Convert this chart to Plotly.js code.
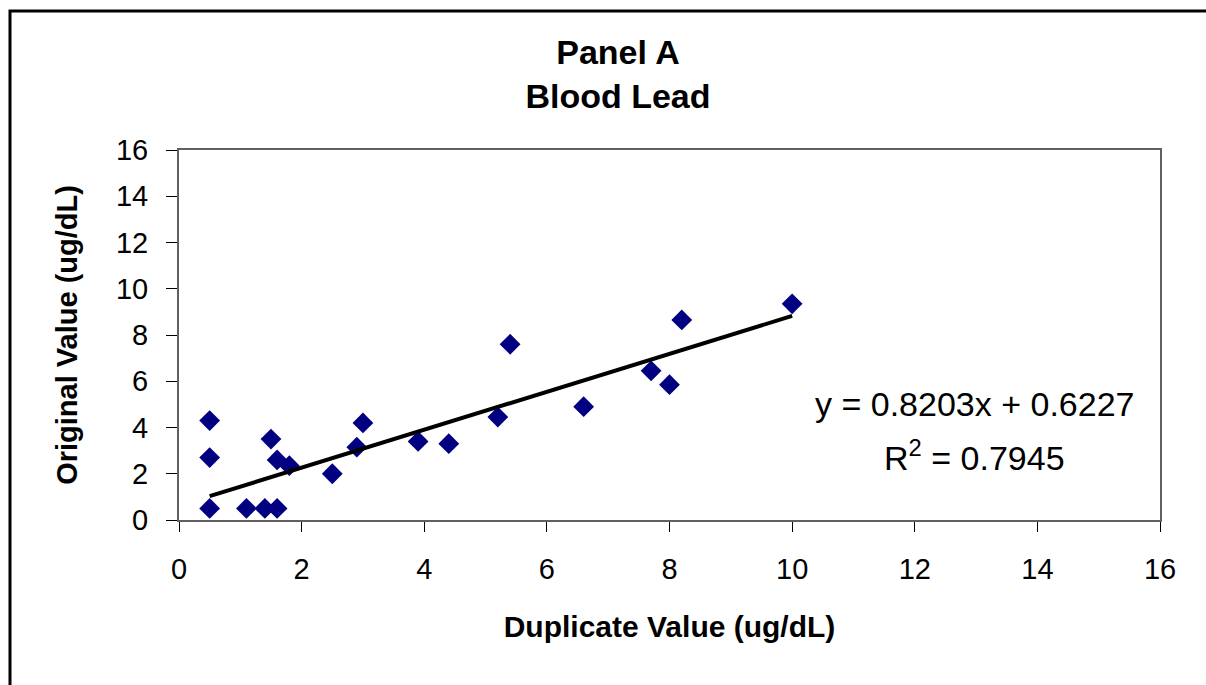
<!DOCTYPE html>
<html>
<head>
<meta charset="utf-8">
<script src="https://cdn.plot.ly/plotly-3.0.1.min.js"></script>
<style>
  html, body { margin: 0; padding: 0; background: #fff; }
  #chart { width: 1206px; height: 685px; }
</style>
</head>
<body>
<div id="chart"></div>
<script>
// Duplicate vs original blood lead values (ug/dL)
var duplicateValues = [0.5, 0.5, 0.5, 1.1, 1.4, 1.6, 1.5, 1.6, 1.8, 2.5, 2.9, 3.0, 3.9, 4.4, 5.2, 5.4, 6.6, 7.7, 8.0, 8.2, 10.0];
var originalValues  = [0.5, 2.7, 4.3, 0.5, 0.5, 0.5, 3.5, 2.6, 2.35, 2.0, 3.15, 4.2, 3.4, 3.3, 4.45, 7.6, 4.9, 6.45, 5.85, 8.65, 9.35];

// Linear trendline as reported on the chart
var slope = 0.8203;
var intercept = 0.6227;
var rSquared = 0.7945;

var tickValues = [0, 2, 4, 6, 8, 10, 12, 14, 16];
var tickLabels = ["0", "2", "4", "6", "8", "10", "12", "14", "16"];

var xMin = Math.min.apply(null, duplicateValues);
var xMax = Math.max.apply(null, duplicateValues);
var trendX = [xMin, xMax];
var trendY = trendX.map(function (v) { return slope * v + intercept; });

var FONT = "Liberation Sans, Arial, Helvetica, sans-serif";

var traces = [
  {
    type: "scatter",
    mode: "markers",
    x: duplicateValues,
    y: originalValues,
    marker: { symbol: "diamond", size: 16, color: "#000080", line: { width: 0 } },
    cliponaxis: false,
    showlegend: false,
    hoverinfo: "x+y"
  },
  {
    type: "scatter",
    mode: "lines",
    x: trendX,
    y: trendY,
    line: { color: "#000000", width: 4 },
    showlegend: false,
    hoverinfo: "skip"
  }
];

var layout = {
  width: 1206,
  height: 685,
  paper_bgcolor: "#ffffff",
  plot_bgcolor: "#ffffff",
  margin: { l: 179, r: 46, t: 150, b: 165, pad: 0 },
  font: { family: FONT, color: "#000000", size: 28 },
  title: {
    text: "Panel A<br>Blood Lead",
    font: { family: FONT, size: 34, weight: "bold", color: "#000000" },
    xref: "container",
    yref: "container",
    x: 618 / 1206,
    xanchor: "center",
    y: 1 - 64 / 685,
    yanchor: "middle"
  },
  xaxis: {
    range: [0, 16],
    tickvals: tickValues,
    ticktext: tickLabels,
    showgrid: false,
    zeroline: false,
    showline: true,
    linecolor: "#606060",
    linewidth: 2,
    mirror: true,
    ticks: "outside",
    ticklen: 10,
    tickwidth: 1,
    tickcolor: "#000000",
    ticklabelstandoff: 12,
    tickfont: { family: FONT, size: 29, color: "#000000" },
    title: {
      text: "Duplicate Value (ug/dL)",
      font: { family: FONT, size: 30, weight: "bold", color: "#000000" },
      standoff: 32
    },
    fixedrange: true
  },
  yaxis: {
    range: [0, 16],
    tickvals: tickValues,
    ticktext: tickLabels,
    showgrid: false,
    zeroline: false,
    showline: true,
    linecolor: "#606060",
    linewidth: 2,
    mirror: true,
    ticks: "outside",
    ticklen: 11,
    tickwidth: 1,
    tickcolor: "#000000",
    ticklabelstandoff: 12,
    tickfont: { family: FONT, size: 29, color: "#000000" },
    title: {
      text: "Original Value (ug/dL)",
      font: { family: FONT, size: 29, weight: "bold", color: "#000000" },
      standoff: 30
    },
    fixedrange: true
  },
  annotations: [
    {
      xref: "x", yref: "y",
      x: 12.98, y: 5.0,
      text: "y = " + slope.toFixed(4) + "x + " + intercept.toFixed(4),
      showarrow: false,
      xanchor: "center", yanchor: "middle",
      font: { family: FONT, size: 34, color: "#000000" }
    },
    {
      xref: "x", yref: "y",
      x: 12.98, y: 2.8,
      text: "R<sup>2</sup> = " + rSquared.toFixed(4),
      showarrow: false,
      xanchor: "center", yanchor: "middle",
      font: { family: FONT, size: 34, color: "#000000" }
    }
  ],
  shapes: [
    {
      type: "rect",
      xref: "paper", yref: "paper",
      x0: (10 - 179) / 981, x1: (1230 - 179) / 981,
      y0: (520 - 720) / 370, y1: (520 - 11) / 370,
      line: { color: "#000000", width: 3 },
      fillcolor: "rgba(0,0,0,0)",
      layer: "below"
    }
  ],
  showlegend: false
};

Plotly.newPlot("chart", traces, layout, { displayModeBar: false, staticPlot: true });
</script>
</body>
</html>
